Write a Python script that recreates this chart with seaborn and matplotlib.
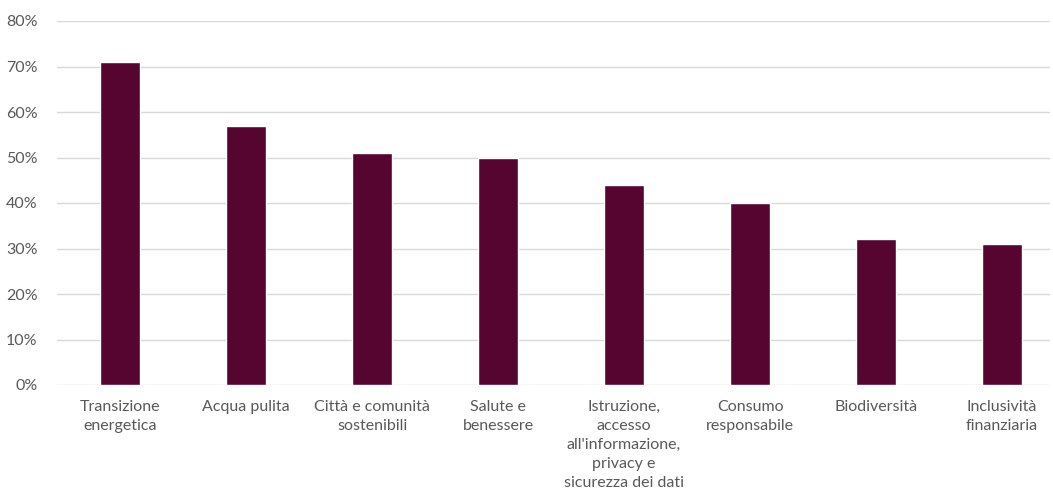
import matplotlib
matplotlib.use("Agg")
import matplotlib.pyplot as plt
import seaborn as sns
import pandas as pd
from matplotlib.ticker import FuncFormatter

categories = [
    "Transizione\nenergetica",
    "Acqua pulita",
    "Città e comunità\nsostenibili",
    "Salute e\nbenessere",
    "Istruzione,\naccesso\nall'informazione,\nprivacy e\nsicurezza dei dati",
    "Consumo\nresponsabile",
    "Biodiversità",
    "Inclusività\nfinanziaria",
]
values = [71, 57, 51, 50, 44, 40, 32, 31]

df = pd.DataFrame({"tema": categories, "quota": values})

sns.set_theme(style="white")
plt.rcParams["font.family"] = ["Lato", "DejaVu Sans"]

fig = plt.figure(figsize=(10.53, 4.97), dpi=100)
ax = fig.add_axes([57 / 1053, 1 - 385 / 497, (1050 - 57) / 1053, (385 - 21) / 497])

sns.barplot(data=df, x="tema", y="quota", color="#560531", width=0.32,
            saturation=1, ax=ax, zorder=3)

ax.set_ylim(0, 80)
ax.set_xlim(-0.5, 7.38)
ax.set_yticks(range(0, 81, 10))
ax.yaxis.set_major_formatter(FuncFormatter(lambda v, _: f"{int(v)}%"))
ax.grid(axis="y", color="#d9d9d9", linewidth=1.0, zorder=0)
for s in ax.spines.values():
    s.set_visible(False)
ax.set_xlabel("")
ax.set_ylabel("")
ax.tick_params(axis="both", length=0, labelsize=11.5, labelcolor="#595959")
ax.tick_params(axis="y", pad=14)
ax.tick_params(axis="x", pad=11)
for lbl in ax.get_xticklabels():
    lbl.set_multialignment("center")
    lbl.set_linespacing(1.45)

fig.savefig("out.png", dpi=100)
